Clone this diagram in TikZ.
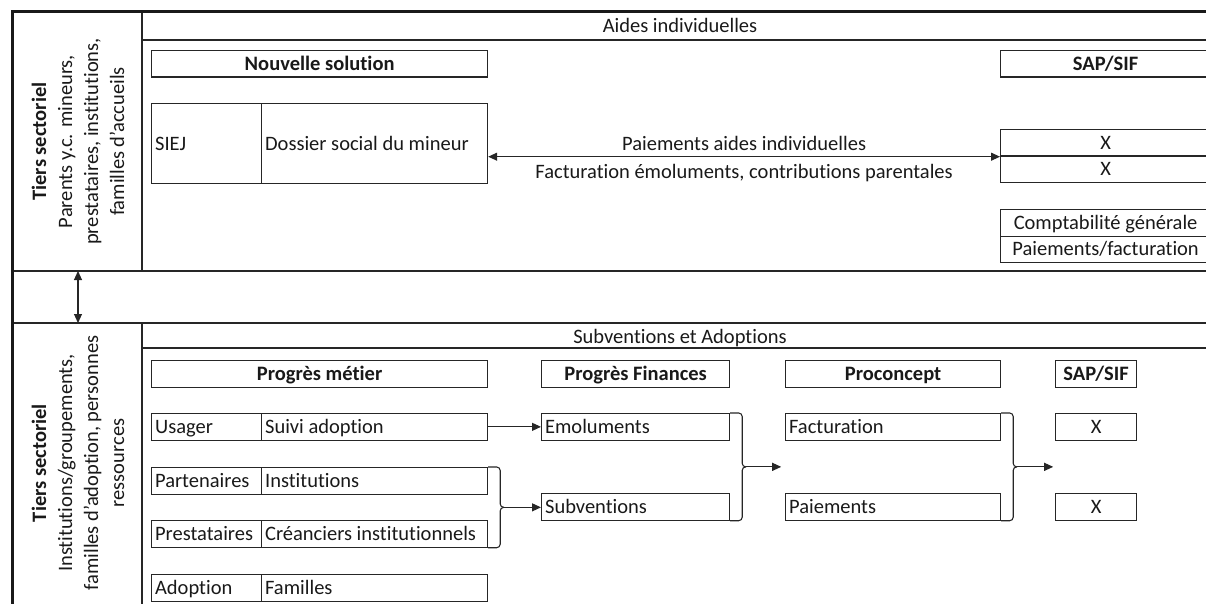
\documentclass[tikz,border=0pt]{standalone}
\usepackage{fontspec}
\setmainfont{Carlito}[Ligatures={NoCommon,NoRare,NoContextual}]
\usetikzlibrary{arrows.meta,calc}
\begin{document}
\begin{tikzpicture}[x=1pt,y=-1pt,
  txt/.style={font=\fontsize{20.5}{26}\selectfont, text=black!90},
  frame/.style={draw=black!85, line width=1.2pt},
  thickframe/.style={draw=black!90, line width=3pt},
  box/.style={txt, draw=black!85, line width=1.2pt, anchor=north west,
    minimum height=26.5pt, inner sep=0pt, text height=13.2pt, text depth=0pt},
  hbox/.style={box, font=\fontsize{20.5}{26}\selectfont\bfseries},
  lcell/.style={box, align=flush left, inner xsep=3.5pt, text width=#1},
  arr/.style={draw=black!85, line width=1.1pt, -{Triangle[length=9pt,width=8pt]}},
  darr/.style={draw=black!85, line width=1.1pt, {Triangle[length=9pt,width=8pt]}-{Triangle[length=9pt,width=8pt]}},
  brk/.style={draw=black!85, line width=1.1pt, rounded corners=3.5pt},
  side/.style={txt, rotate=90, align=center, inner sep=0pt}
]
\useasboundingbox (0,0) rectangle (1206,604);
\clip (0,0) rectangle (1206,604);

% frame lines
\draw[frame] (142,12) -- (142,271);
\draw[frame] (142,40) -- (1220,40);
\draw[frame] (12,271) -- (1220,271);
\draw[frame] (12,323) -- (1220,323);
\draw[frame] (142,323) -- (142,610);
\draw[frame] (142,348) -- (1220,348);
\draw[thickframe] (1220,12) -- (12,12) -- (12,610);

% side labels
\node[side] (side1) at (78,141.5) {\textbf{Tiers sectoriel}\\Parents y.c. mineurs,\\prestataires, institutions,\\familles d'accueils};
\node[side] (side2) at (78,463) {\textbf{Tiers sectoriel}\\Institutions/groupements,\\familles d'adoption, personnes\\ressources};

% gap arrow
\coordinate (g1) at (78,271);
\coordinate (g2) at (78,323);
\draw[darr] (g1) -- (g2);

% headers
\node[txt, text height=13.2pt, text depth=0pt, inner sep=0pt] (h1) at (680,26) {Aides individuelles};
\node[txt, text height=13.2pt, text depth=0pt, inner sep=0pt] (h2) at (680,337) {Subventions et Adoptions};

% upper section
\node[hbox, minimum width=336pt] (ns) at (151,50) {Nouvelle solution};
\node[lcell=103pt, minimum height=80pt] (siej) at (151,103) {SIEJ};
\node[lcell=219pt, minimum height=80pt] (dsm) at (261,103) {Dossier social du mineur};
\node[hbox, minimum width=210pt] (sap1) at (1000,50) {SAP/SIF};
\node[box, minimum width=210pt] (xa) at (1000,129) {X};
\node[box, minimum width=210pt] (xb) at (1000,155.5) {X};
\node[box, minimum width=210pt] (cg) at (1000,209) {Comptabilité générale};
\node[box, minimum width=210pt] (pfac) at (1000,235.5) {Paiements/facturation};

\draw[darr] (dsm.east |- xa.south west) -- (xa.south west)
  node[txt, midway, above, inner sep=5.5pt, text depth=0pt] (lab1) {Paiements aides individuelles}
  node[txt, midway, below, inner sep=8.5pt, text height=13.2pt] (lab2) {Facturation émoluments, contributions parentales};

% lower section
\node[hbox, minimum width=336pt] (pm) at (151,360) {Progrès métier};
\node[hbox, minimum width=188pt] (pfin) at (541,360) {Progrès Finances};
\node[hbox, minimum width=215pt] (pc) at (785,360) {Proconcept};
\node[hbox, minimum width=81pt] (sap2) at (1055,360) {SAP/SIF};

\node[lcell=103pt] (u1) at (151,413) {Usager};
\node[lcell=219pt] (u2) at (261,413) {Suivi adoption};
\node[lcell=103pt] (p1) at (151,467) {Partenaires};
\node[lcell=219pt] (p2) at (261,467) {Institutions};
\node[lcell=103pt] (r1) at (151,520) {Prestataires};
\node[lcell=219pt] (r2) at (261,520) {Créanciers institutionnels};
\node[lcell=103pt] (a1) at (151,574) {Adoption};
\node[lcell=219pt] (a2) at (261,574) {Familles};

\node[lcell=181pt] (em) at (541,413) {Emoluments};
\node[lcell=181pt] (sub) at (541,493) {Subventions};
\node[lcell=208pt] (fac) at (785,413) {Facturation};
\node[lcell=208pt] (pai) at (785,493) {Paiements};
\node[box, minimum width=81pt] (x1) at (1055,413) {X};
\node[box, minimum width=81pt] (x2) at (1055,493) {X};

% arrows and brackets
\draw[arr] (u2.east) -- (em.west);

\coordinate (b1) at ($(p2.north east)!0.5!(r2.south east) + (16,0)$);
\draw[brk] (p2.north east) -| ([xshift=-4pt]b1) -- (b1);
\draw[brk] (r2.south east) -| ([xshift=-4pt]b1) -- (b1);
\draw[arr] (b1) -- (b1 -| sub.west);

\coordinate (b2) at ($(em.north east)!0.5!(sub.south east) + (16,0)$);
\draw[brk] (em.north east) -| ([xshift=-4pt]b2) -- (b2);
\draw[brk] (sub.south east) -| ([xshift=-4pt]b2) -- (b2);
\coordinate (e2) at ($(b2)+(35,0)$);
\draw[arr] (b2) -- (e2);

\coordinate (b3) at ($(fac.north east)!0.5!(pai.south east) + (16,0)$);
\draw[brk] (fac.north east) -| ([xshift=-4pt]b3) -- (b3);
\draw[brk] (pai.south east) -| ([xshift=-4pt]b3) -- (b3);
\coordinate (e3) at ($(b3)+(36,0)$);
\draw[arr] (b3) -- (e3);
\end{tikzpicture}
\end{document}
